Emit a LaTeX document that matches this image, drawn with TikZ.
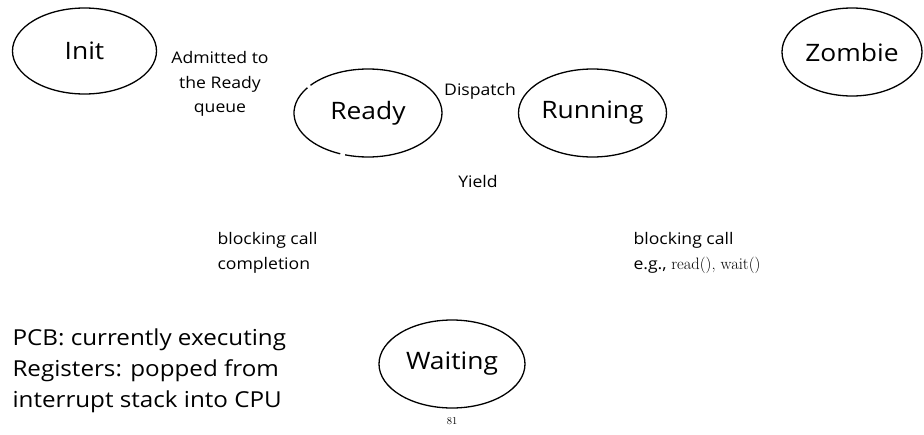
\documentclass[tikz,border=0pt]{standalone}
\usepackage{fontspec}
\usetikzlibrary{calc}
\setsansfont[FakeStretch=1.1]{Open Sans}
\newfontfamily\rmserif{Latin Modern Roman}
\begin{document}
\begin{tikzpicture}[x=1pt,y=-1pt,
  outline/.style={line width=1.3pt},
  big/.style={font=\sffamily\fontsize{24}{26}\selectfont},
  small/.style={font=\sffamily\fontsize{16}{24.5}\selectfont},
  note/.style={font=\sffamily\fontsize{22}{31}\selectfont,align=left,anchor=west}]
\useasboundingbox (0,0) rectangle (924,434);
% states
\draw[outline] (84.5,51) ellipse [x radius=72, y radius=43];
\node[big] (init) at (84.5,51) {Init};
% Ready is drawn as two arcs with small breaks
\coordinate (rc) at (368,113);
\draw[outline] ($(rc)+(112:74 and 44)$) arc [start angle=112, end angle=215, x radius=74, y radius=44];
\draw[outline] ($(rc)+(219:74 and 44)$) arc [start angle=219, end angle=468, x radius=74, y radius=44];
\node[big] (ready) at (rc) {Ready};
\draw[outline] (592.5,113) ellipse [x radius=74, y radius=44];
\node[big] (running) at (592.5,113) {Running};
\draw[outline] (852,52) ellipse [x radius=70, y radius=44];
\node[big] (zombie) at (852,52) {Zombie};
\draw[outline] (452,364) ellipse [x radius=73, y radius=44];
\node[big] (waiting) at (452,364) {Waiting};
% transition labels
\node[small,align=center] (admit) at (220,84) {Admitted to\\the Ready\\queue};
\node[small] (dispatch) at (480,91) {Dispatch};
\node[small] (yield) at (478,181) {Yield};
\node[small,align=left,anchor=west] (bdone) at (214,253) {blocking call\\completion};
\node[small,align=left,anchor=west] (bcall) at (630,253) {blocking call\\e.g., {\rmserif\fontsize{16.5}{24.5}\selectfont read(), wait()}};
% notes
\node[note] (pcb) at (9,371) {PCB: currently executing\\Registers: popped from\\interrupt stack into CPU};
\node[font=\rmserif\fontsize{10.5}{12}\selectfont] (page) at (452,421) {81};
\end{tikzpicture}
\end{document}
